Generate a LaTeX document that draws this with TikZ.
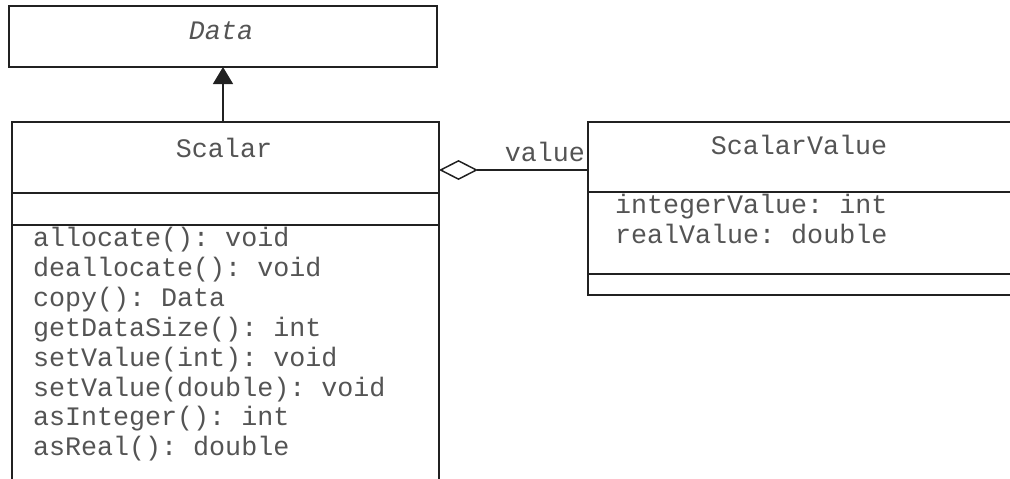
\documentclass[tikz,border=0pt]{standalone}
\usepackage{fontspec}
\setmonofont{Liberation Mono}
\usetikzlibrary{arrows.meta}
\definecolor{umlline}{gray}{0.13}
\definecolor{umltext}{gray}{0.33}
\tikzset{
  umlbox/.style={draw=umlline, line width=1.6pt, rectangle, inner sep=0pt, outer sep=0pt, anchor=north west},
  umltxt/.style={inner sep=0pt, outer sep=0pt, text=umltext, font=\ttfamily\fontsize{26.7}{29.9}\selectfont},
  conn/.style={draw=umlline, line width=1.3pt},
}
\begin{document}
\begin{tikzpicture}[x=1pt, y=-1pt]
  \useasboundingbox (0,0) rectangle (1010,479);
  \clip (0,0) rectangle (1010,479);

  % abstract base class
  \node[umlbox, minimum width=428pt, minimum height=61pt] (data) at (9,6) {};
  \node[umltxt, font=\ttfamily\itshape\fontsize{26.7}{29.9}\selectfont, anchor=base] (dataName) at (221,39) {Data};

  % class Scalar (operations compartment runs past the lower edge)
  \node[umlbox, minimum width=427pt, minimum height=71pt] (scalarName) at (12,122) {};
  \node[umlbox, minimum width=427pt, minimum height=32pt] (scalarAttr) at (12,193) {};
  \node[umlbox, minimum width=427pt, minimum height=280pt] (scalarOps) at (12,225) {};
  \node[umltxt, anchor=base] (scalarLabel) at (224,157) {Scalar};
  \foreach \op [count=\i] in {allocate(): void, deallocate(): void, copy(): Data,
      getDataSize(): int, setValue(int): void, setValue(double): void,
      asInteger(): int, asReal(): double}
    \node[umltxt, anchor=base west] (op\i) at (33, 216.6+29.9*\i) {\op};

  % class ScalarValue (runs past the right edge)
  \node[umlbox, minimum width=430pt, minimum height=70pt] (svName) at (588,122) {};
  \node[umlbox, minimum width=430pt, minimum height=82pt] (svAttr) at (588,192) {};
  \node[umlbox, minimum width=430pt, minimum height=21pt] (svOps) at (588,274) {};
  \node[umltxt, anchor=base] (svLabel) at (799,154) {ScalarValue};
  \node[umltxt, anchor=base west] (attr1) at (615,213) {integerValue: int};
  \node[umltxt, anchor=base west] (attr2) at (615,243) {realValue: double};

  % generalization
  \draw[conn, -{Triangle[length=17pt, width=20pt]}]
    (data.south |- scalarName.north) -- (data.south);

  % aggregation
  \coordinate (aggA) at ([yshift=-12.5pt]scalarName.east);
  \coordinate (aggB) at (aggA -| svName.west);
  \draw[conn, {Diamond[open, length=39pt, width=20pt, line width=1.5pt]}-]
    (aggA) -- (aggB);
  \node[umltxt, anchor=base east] (role) at (585,161) {value};
\end{tikzpicture}
\end{document}
